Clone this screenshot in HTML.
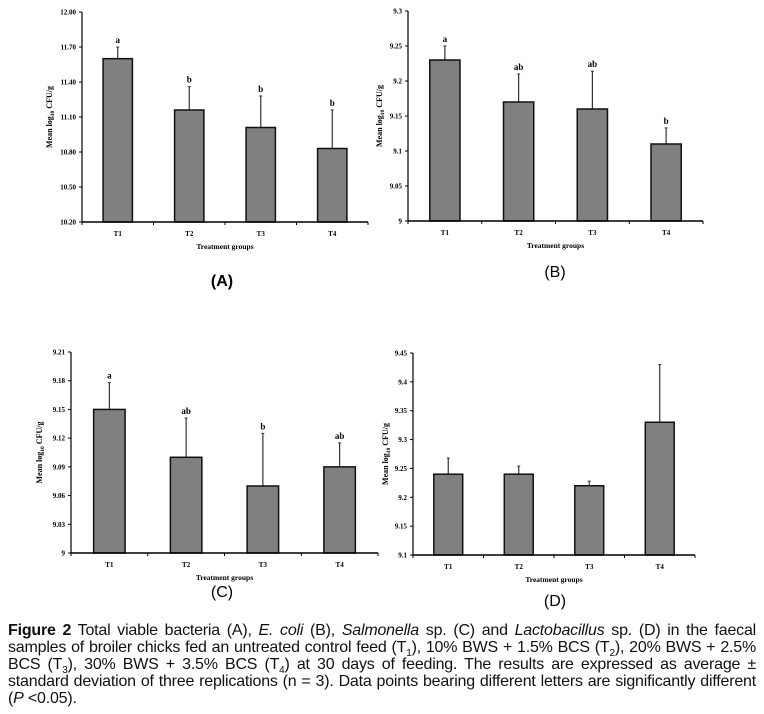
<!DOCTYPE html>
<html><head><meta charset="utf-8">
<style>
body{margin:0;background:#fff;width:764px;height:714px;overflow:hidden;position:relative}
svg{position:absolute;left:0;top:0}
#cap{position:absolute;left:8px;top:622px;width:748px;font-family:"Liberation Sans Narrow","Liberation Sans",sans-serif;font-size:16px;line-height:17px;text-align:justify;color:#111;letter-spacing:-0.2px}
#cap sub{font-size:10px;line-height:0}
</style></head><body>
<svg id="fig" width="764" height="714"></svg>
<div id="cap"><b>Figure 2</b> Total viable bacteria (A), <i>E. coli</i> (B), <i>Salmonella</i> sp. (C) and <i>Lactobacillus</i> sp. (D) in the faecal samples of broiler chicks fed an untreated control feed (T<sub>1</sub>), 10% BWS + 1.5% BCS (T<sub>2</sub>), 20% BWS + 2.5% BCS (T<sub>3</sub>), 30% BWS + 3.5% BCS (T<sub>4</sub>) at 30 days of feeding. The results are expressed as average ± standard deviation of three replications (n = 3). Data points bearing different letters are significantly different (<i>P</i> &lt;0.05).</div>
<script>
const categories = ["T1","T2","T3","T4"];
const valuesA = [11.60, 11.16, 11.01, 10.83];
const errTopA = [11.70, 11.36, 11.28, 11.16];
const lettersA = ["a","b","b","b"];
const ticksA = ["10.20","10.50","10.80","11.10","11.40","11.70","12.00"];
const valuesB = [9.23, 9.17, 9.16, 9.11];
const errTopB = [9.25, 9.21, 9.214, 9.133];
const lettersB = ["a","ab","ab","b"];
const ticksB = ["9","9.05","9.1","9.15","9.2","9.25","9.3"];
const valuesC = [9.15, 9.10, 9.07, 9.09];
const errTopC = [9.178, 9.141, 9.125, 9.115];
const lettersC = ["a","ab","b","ab"];
const ticksC = ["9","9.03","9.06","9.09","9.12","9.15","9.18","9.21"];
const valuesD = [9.24, 9.24, 9.22, 9.33];
const errTopD = [9.268, 9.254, 9.228, 9.43];
const lettersD = ["","","",""];
const ticksD = ["9.1","9.15","9.2","9.25","9.3","9.35","9.4","9.45"];

const NS="http://www.w3.org/2000/svg";
const svg=document.getElementById('fig');
function mk(tag,attrs,parent){const e=document.createElementNS(NS,tag);for(const k in attrs)e.setAttribute(k,attrs[k]);(parent||svg).appendChild(e);return e;}
const serif='"Liberation Serif",serif';

function panel(id,cfg,vals,errs,letters,ticks){
  const g=mk('g',{});
  
  
  const x0=cfg.x0,x1=cfg.x1,yb=cfg.yb,yt=cfg.yt;
  const tmin=parseFloat(ticks[0]),tmax=parseFloat(ticks[ticks.length-1]);
  const y=v=>yb-(v-tmin)/(tmax-tmin)*(yb-yt);
  const band=(x1-x0)/categories.length;
  const bw=band*0.41;
  categories.forEach((c,i)=>{
    const cx=x0+band*(i+0.5);
    const el=mk('line',{x1:cx,x2:cx,y1:y(errs[i]),y2:y(vals[i]),stroke:'#333','stroke-width':1.2},g);
    
    
    mk('line',{x1:cx-1.5,x2:cx+1.5,y1:y(errs[i]),y2:y(errs[i]),stroke:'#333','stroke-width':1},g);
    const r=mk('rect',{x:cx-bw/2,y:y(vals[i]),width:bw,height:yb-y(vals[i]),fill:'#808080',stroke:'#111','stroke-width':1.5},g);
    
    
    if(letters[i]){
      const t=mk('text',{x:cx,y:y(errs[i])-4,'text-anchor':'middle','font-family':serif,'font-weight':'bold','font-size':9},g);
      t.textContent=letters[i];
      
      
    }
    const tl=mk('text',{x:cx,y:yb+14,'text-anchor':'middle','font-family':serif,'font-weight':'bold','font-size':7},g);
    tl.textContent=c;
    
    
    mk('line',{x1:x0+band*i,x2:x0+band*i,y1:yb,y2:yb+3,stroke:'#000','stroke-width':1},g);
  });
  mk('line',{x1:x1,x2:x1,y1:yb,y2:yb+3,stroke:'#000','stroke-width':1},g);
  const ya=mk('line',{x1:x0,x2:x0,y1:yt,y2:yb,stroke:'#000','stroke-width':1.2},g);
  
  const xa=mk('line',{x1:x0,x2:x1,y1:yb,y2:yb,stroke:'#000','stroke-width':1.5},g);
  
  ticks.forEach(tk=>{
    const yy=y(parseFloat(tk));
    mk('line',{x1:x0-3,x2:x0,y1:yy,y2:yy,stroke:'#000','stroke-width':1},g);
    const t=mk('text',{x:x0-6,y:yy+2.5,'text-anchor':'end','font-family':serif,'font-weight':'bold','font-size':7},g);
    t.textContent=tk;
    
    
  });
  const yl=mk('text',{transform:`translate(${cfg.ylx},${(yt+yb)/2}) rotate(-90)`,'text-anchor':'middle','font-family':serif,'font-weight':'bold','font-size':8},g);
  yl.innerHTML='Mean log<tspan font-size="5.5" dy="2">10</tspan><tspan dy="-2"> CFU/g</tspan>';
  
  const xl=mk('text',{x:(x0+x1)/2,y:yb+27,'text-anchor':'middle','font-family':serif,'font-weight':'bold','font-size':7.5},g);
  xl.textContent='Treatment groups';
  
  const pl=mk('text',{x:cfg.lx,y:cfg.ly,'text-anchor':'middle','font-family':'"Liberation Sans",sans-serif','font-weight':cfg.bold?'bold':'normal','font-size':16},g);
  pl.textContent='('+id+')';
  
}
panel('A',{x0:82,x1:368,yb:222,yt:12,ylx:52,lx:222,ly:286,bold:true},valuesA,errTopA,lettersA,ticksA);
panel('B',{x0:408,x1:703,yb:221,yt:11,ylx:382,lx:555,ly:277},valuesB,errTopB,lettersB,ticksB);
panel('C',{x0:71,x1:378,yb:553,yt:352,ylx:42,lx:222,ly:597},valuesC,errTopC,lettersC,ticksC);
panel('D',{x0:413,x1:695,yb:555,yt:353,ylx:388,lx:555,ly:606},valuesD,errTopD,lettersD,ticksD);
</script>
</body></html>
